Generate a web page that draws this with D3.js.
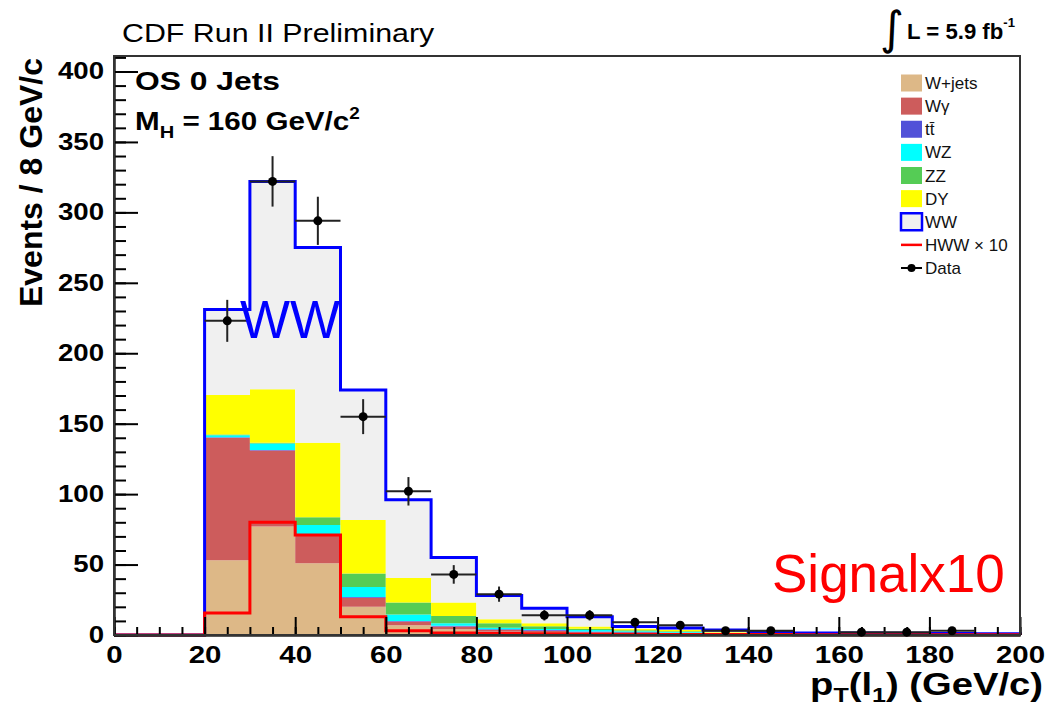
<!DOCTYPE html>
<meta charset="utf-8">
<style>
body { margin: 0; background: #fff; }
svg text { font-family: "Liberation Sans", Arial, Helvetica, sans-serif; }
</style>
<body>
<div id="chart"></div>
<script src="https://cdn.jsdelivr.net/npm/d3@7"></script>
<script>

// bins of 10 GeV : low edges (last one = upper edge of the last bin)
var binEdges = [0, 10, 20, 30, 40, 50, 60, 70, 80, 90, 100, 110, 120, 130, 140, 150, 160, 170, 180, 190, 200];

// backgrounds, bottom -> top of the stack
var wjets  = [0, 0, 53, 77, 51, 20,   7,   4,   2.3, 2,   1.5, 1,   0.8, 0.4, 0.3, 0.2, 0.2, 0.1, 0.1, 0.1];
var wgamma = [0, 0, 87, 54, 20, 6.4,  2.5, 2,   1.2, 1,   0.5, 0.5, 0.4, 0.2, 0.1, 0.1, 0.1, 0.1, 0,   0];
var ttbar  = [0, 0, 0.3, 0.3, 0.5, 0.6, 0.5, 0.5, 0.5, 0.5, 0.5, 0.5, 0.4, 0.3, 0.3, 0.2, 0.2, 0.2, 0.1, 0.1];
var wz     = [0, 0, 1.5, 4.7, 6.5, 7,  4.5, 1.8, 1.2, 0.8, 1,   0.6, 0.5, 0.3, 0.2, 0.2, 0.1, 0.1, 0.1, 0.1];
var zz     = [0, 0, 0.5, 0.5, 5.5, 9.6, 8.5, 5.2, 3.1, 1.9, 1,   0.8, 0.6, 0.3, 0.2, 0.2, 0.1, 0.1, 0.1, 0.1];
var dy     = [0, 0, 28, 38, 53, 38,   17.5, 9.5, 2.8, 2.1, 1.5, 1,   0.8, 0.4, 0.2, 0.1, 0.1, 0.1, 0.1, 0];
var ww     = [0, 0, 60.7, 147.5, 138.5, 92.4, 55.5, 32, 16.9, 10.7, 7, 1.6, 1.5, 1.6, 0.7, 0.5, 0.7, 0.5, 0.5, 0.4];

// signal (HWW x 10)
var hww10  = [0, 0, 15.6, 80, 71, 13, 3, 1.5, 1, 0.8, 0.6, 0.5, 0.4, 0.3, 0.3, 0.2, 0.2, 0.2, 0.1, 0.1];

// data (null = no point drawn) and their errors
var dataCounts = [null, null, 223, 322, 294, 155, 102, 43, 29, 14, 14, 9, 7, 3, 3, null, 2, 2, 3, null];
var dataErrors = [0, 0, 14.9, 17.9, 17.1, 12.4, 10.1, 6.6, 5.4, 3.7, 3.7, 3, 2.6, 1.7, 1.7, 0, 1.4, 1.4, 1.7, 0];

var xTicks = [0, 20, 40, 60, 80, 100, 120, 140, 160, 180, 200];
var yTicks = [0, 50, 100, 150, 200, 250, 300, 350, 400];
var xMinorTicks = [0, 5, 10, 15, 20, 25, 30, 35, 40, 45, 50, 55, 60, 65, 70, 75, 80, 85, 90, 95, 100,
                   105, 110, 115, 120, 125, 130, 135, 140, 145, 150, 155, 160, 165, 170, 175, 180, 185, 190, 195, 200];
var yMinorTicks = [0, 10, 20, 30, 40, 50, 60, 70, 80, 90, 100, 110, 120, 130, 140, 150, 160, 170, 180, 190, 200,
                   210, 220, 230, 240, 250, 260, 270, 280, 290, 300, 310, 320, 330, 340, 350, 360, 370, 380, 390, 400, 410];

var legendLabels = ["W+jets", "W\u03B3", "tt\u0304", "WZ", "ZZ", "DY", "WW", "HWW \u00D7 10", "Data"];

var colors = {
    wjets: "#ddb887",
    wgamma: "#cd5c5c",
    ttbar: "#5151d8",
    wz: "#00ffff",
    zz: "#55cc55",
    dy: "#ffff00",
    ww: "#f0f0f0"
};

var largeur = 1047;
var hauteur = 708;
var margin = ({top: 56, right: 27, bottom: 73, left: 114});

const svg = d3.select("#chart")
    .append("svg")
        .attr("width", largeur)
        .attr("height", hauteur);

var x = d3.scaleLinear()
    .domain([0, 200])
    .range([margin.left, largeur - margin.right]);
var y = d3.scaleLinear()
    .domain([0, 411])
    .range([hauteur - margin.bottom, margin.top]);

// stack
var keys = ["wjets", "wgamma", "ttbar", "wz", "zz", "dy", "ww"];
var series = {wjets: wjets, wgamma: wgamma, ttbar: ttbar, wz: wz, zz: zz, dy: dy, ww: ww};
var rows = binEdges.slice(0, 20).map(function(e, i) {
    var r = {lo: e};
    keys.forEach(function(k) { r[k] = series[k][i]; });
    return r;
});
var stacked = d3.stack().keys(keys)(rows);

var area = d3.area()
    .curve(d3.curveStepAfter)
    .x(d => x(d.x))
    .y0(d => y(d.y0))
    .y1(d => y(d.y1));

stacked.forEach(function(layer) {
    var lp = layer.map(function(d, i) { return {x: binEdges[i], y0: d[0], y1: d[1]}; });
    var last = lp[lp.length - 1];
    lp.push({x: 200, y0: last.y0, y1: last.y1});
    svg.append("path")
        .datum(lp)
        .attr("fill", colors[layer.key])
        .attr("stroke", "none")
        .attr("d", area);
});

// step outline helper
function stepPath(values) {
    var p = "M" + x(0) + "," + y(0);
    values.forEach(function(v, i) {
        p += "L" + x(binEdges[i]) + "," + y(v) + "L" + x(binEdges[i + 1]) + "," + y(v);
    });
    p += "L" + x(200) + "," + y(0);
    return p;
}

var totals = stacked[stacked.length - 1].map(d => d[1]);

svg.append("path")
    .attr("d", stepPath(totals))
    .attr("fill", "none")
    .attr("stroke", "#0000ff")
    .attr("stroke-width", 3);

svg.append("path")
    .attr("d", stepPath(hww10))
    .attr("fill", "none")
    .attr("stroke", "#ff0000")
    .attr("stroke-width", 3);

// axes (ROOT style, ticks inside)
var xAxisY = hauteur - margin.bottom;

var gyMinor = svg.append("g")
    .attr("class", "axis")
    .attr("transform", "translate(" + margin.left + ",0)")
    .call(d3.axisLeft(y).tickValues(yMinorTicks).tickSize(-12).tickSizeOuter(0).tickFormat(() => ""));

var gy = svg.append("g")
    .attr("class", "axis")
    .attr("transform", "translate(" + margin.left + ",0)")
    .call(d3.axisLeft(y).tickValues(yTicks).tickSize(-24).tickSizeOuter(0).tickPadding(10).tickFormat(d3.format("d")));

var gxMinor = svg.append("g")
    .attr("class", "axis")
    .attr("transform", "translate(0," + xAxisY + ")")
    .call(d3.axisBottom(x).tickValues(xMinorTicks).tickSize(-8).tickSizeOuter(0).tickFormat(() => ""));

var gx = svg.append("g")
    .attr("class", "axis")
    .attr("transform", "translate(0," + xAxisY + ")")
    .call(d3.axisBottom(x).tickValues(xTicks).tickSize(-18).tickSizeOuter(0).tickPadding(12).tickFormat(d3.format("d")));

svg.selectAll(".axis .domain").attr("stroke", "#222").attr("stroke-width", 2);
svg.selectAll(".axis .tick line").attr("stroke", "#000").attr("stroke-width", 2);

gy.selectAll("text")
    .attr("font-size", 23)
    .attr("font-weight", "bold")
    .attr("fill", "#000")
    .each(function() {
        var w = this.getComputedTextLength();
        d3.select(this).attr("textLength", w * 1.2).attr("lengthAdjust", "spacingAndGlyphs");
    });
gx.selectAll("text")
    .attr("font-size", 23)
    .attr("font-weight", "bold")
    .attr("fill", "#000")
    .each(function() {
        var w = this.getComputedTextLength();
        d3.select(this).attr("textLength", w * 1.28).attr("lengthAdjust", "spacingAndGlyphs");
    });

// frame
svg.append("rect")
    .attr("x", x(0))
    .attr("y", y(411))
    .attr("width", x(200) - x(0))
    .attr("height", y(0) - y(411))
    .attr("fill", "none")
    .attr("stroke", "#333")
    .attr("stroke-width", 2);

// data points
var pts = [];
dataCounts.forEach(function(c, i) {
    if (c !== null) pts.push({lo: binEdges[i], hi: binEdges[i + 1], n: c, e: dataErrors[i]});
});
var gData = svg.append("g");
gData.selectAll("line.v").data(pts).enter().append("line")
    .attr("class", "v")
    .attr("x1", d => x((d.lo + d.hi) / 2))
    .attr("x2", d => x((d.lo + d.hi) / 2))
    .attr("y1", d => y(d.n - d.e))
    .attr("y2", d => y(d.n + d.e))
    .attr("stroke", "#222")
    .attr("stroke-width", 2);
gData.selectAll("line.h").data(pts).enter().append("line")
    .attr("class", "h")
    .attr("x1", d => x(d.lo))
    .attr("x2", d => x(d.hi))
    .attr("y1", d => y(d.n))
    .attr("y2", d => y(d.n))
    .attr("stroke", "#222")
    .attr("stroke-width", 2);
gData.selectAll("circle").data(pts).enter().append("circle")
    .attr("cx", d => x((d.lo + d.hi) / 2))
    .attr("cy", d => y(d.n))
    .attr("r", 4.5)
    .attr("fill", "#000");

// texts stretched like the original picture
function placeText(px, py, width, build) {
    var g = svg.append("g").attr("transform", "translate(" + px + "," + py + ")");
    var t = g.append("text");
    build(t);
    var w = t.node().getBBox().width;
    g.attr("transform", "translate(" + px + "," + py + ") scale(" + (width / w) + ",1)");
    return t;
}

placeText(122, 42, 313, function(t) {
    t.attr("font-size", 25).text("CDF Run II Preliminary");
});

placeText(135, 90, 145, function(t) {
    t.attr("font-size", 25).attr("font-weight", "bold").text("OS 0 Jets");
});

placeText(135, 130, 225, function(t) {
    t.attr("font-size", 25).attr("font-weight", "bold");
    t.append("tspan").text("M");
    t.append("tspan").attr("font-size", 17).attr("dy", 8).text("H");
    t.append("tspan").attr("dy", -8).text(" = 160 GeV/c");
    t.append("tspan").attr("font-size", 16).attr("dy", -11).text("2");
});

// luminosity
svg.append("text")
    .attr("x", 880)
    .attr("y", 44)
    .attr("font-size", 46)
    .style("font-family", "DejaVu Sans")
    .text("\u222B");
placeText(907, 39, 108, function(t) {
    t.attr("font-size", 22).attr("font-weight", "bold");
    t.append("tspan").text("L = 5.9 fb");
    t.append("tspan").attr("font-size", 13).attr("dy", -12).text("-1");
});

// axis titles
svg.append("text")
    .attr("transform", "translate(42,58) rotate(-90)")
    .attr("text-anchor", "end")
    .attr("font-size", 32)
    .attr("font-weight", "bold")
    .text("Events / 8 GeV/c");

placeText(1043, 695, 233, function(t) {
    t.attr("font-size", 32).attr("font-weight", "bold").attr("text-anchor", "end");
    t.append("tspan").text("p");
    t.append("tspan").attr("font-size", 21).attr("dy", 7).text("T");
    t.append("tspan").attr("dy", -7).text("(l");
    t.append("tspan").attr("font-size", 21).attr("dy", 7).text("1");
    t.append("tspan").attr("dy", -7).text(") (GeV/c)");
});

// annotations
svg.append("text")
    .attr("x", 240)
    .attr("y", 338)
    .attr("font-size", 53)
    .attr("fill", "#0000ff")
    .text("WW");
svg.append("text")
    .attr("x", 772)
    .attr("y", 592)
    .attr("font-size", 53)
    .attr("fill", "#ff0000")
    .text("Signalx10");

// legend
var legY = d3.scalePoint().domain(legendLabels).range([83, 268]);
var legColors = [colors.wjets, colors.wgamma, colors.ttbar, colors.wz, colors.zz, colors.dy, colors.ww];
var leg = svg.append("g");
legendLabels.forEach(function(lab, i) {
    var cy = legY(lab);
    if (i < 7) {
        leg.append("rect")
            .attr("x", 901)
            .attr("y", cy - 8.5)
            .attr("width", 21)
            .attr("height", 17)
            .attr("fill", legColors[i])
            .attr("stroke", i == 6 ? "#0000ff" : "none")
            .attr("stroke-width", 2.5);
    } else if (i == 7) {
        leg.append("line")
            .attr("x1", 901).attr("x2", 922)
            .attr("y1", cy).attr("y2", cy)
            .attr("stroke", "#ff0000").attr("stroke-width", 2.5);
    } else {
        leg.append("line")
            .attr("x1", 901).attr("x2", 922)
            .attr("y1", cy).attr("y2", cy)
            .attr("stroke", "#000").attr("stroke-width", 2);
        leg.append("circle")
            .attr("cx", 911.5).attr("cy", cy).attr("r", 4)
            .attr("fill", "#000");
    }
    leg.append("text")
        .attr("x", 925)
        .attr("y", cy + 6)
        .attr("font-size", 17)
        .attr("fill", "#111")
        .text(lab);
});

</script>
</body>
